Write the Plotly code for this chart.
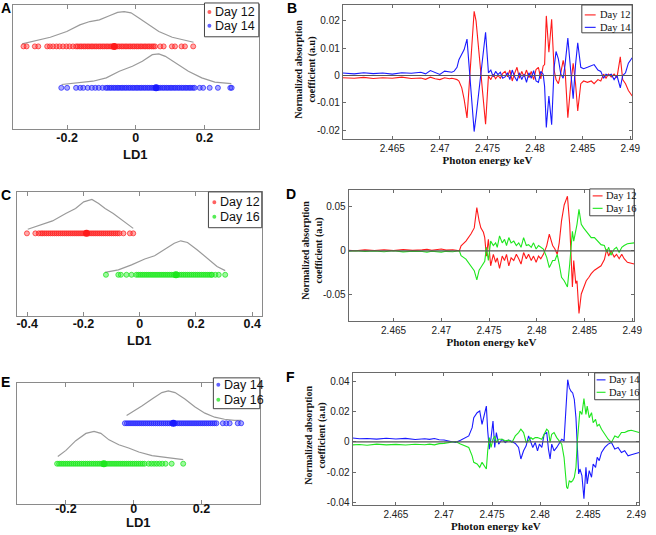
import plotly.graph_objects as go

# ---------------- Data: LD1 strip plots (left column) ----------------
A_DAY12 = [-0.327, -0.318, -0.294, -0.284, -0.258, -0.250, -0.241, -0.231, -0.222, -0.212, -0.202, -0.193, -0.183,
           -0.174, -0.169, -0.163, -0.158, -0.152, -0.147, -0.141, -0.136, -0.130, -0.125, -0.119, -0.114, -0.108,
           -0.103, -0.097, -0.092, -0.086, -0.081, -0.075, -0.070, -0.064, -0.059, -0.053, -0.048, -0.042, -0.037,
           -0.031, -0.026, -0.020, -0.015, -0.009, -0.004, 0.002, 0.007, 0.013, 0.018, 0.024, 0.029, 0.035, 0.040,
           0.046, 0.051, 0.056, 0.071, 0.081, 0.105, 0.114, 0.133, 0.143, 0.167]
A_DAY14 = [-0.217, -0.200, -0.174, -0.162, -0.153, -0.140, -0.128, -0.118, -0.108, -0.097, -0.087,
           -0.082, -0.076, -0.071, -0.065, -0.060, -0.054, -0.049, -0.043, -0.038, -0.032, -0.027, -0.021, -0.016,
           -0.010, -0.005, 0.001, 0.006, 0.012, 0.017, 0.023, 0.028, 0.034, 0.039, 0.045, 0.050, 0.056, 0.061,
           0.067, 0.072, 0.078, 0.083, 0.089, 0.094, 0.100, 0.105, 0.111, 0.116, 0.122, 0.127, 0.133, 0.138,
           0.144, 0.149, 0.155, 0.160, 0.166, 0.171, 0.186, 0.196, 0.215, 0.239, 0.275, 0.279]
A_MEANS = [-0.063, 0.059]
A_KDE12_X = [-0.331, -0.297, -0.249, -0.201, -0.163, -0.134, -0.106, -0.077, -0.053, -0.034, -0.014, 0.010, 0.038, 0.067, 0.106, 0.144, 0.168]
A_KDE12_H = [0.06, 0.12, 0.22, 0.36, 0.52, 0.60, 0.64, 0.74, 0.82, 0.84, 0.81, 0.68, 0.52, 0.36, 0.22, 0.14, 0.10]
A_KDE14_X = [-0.216, -0.173, -0.125, -0.086, -0.048, -0.010, 0.019, 0.048, 0.067, 0.086, 0.115, 0.153, 0.192, 0.230, 0.278]
A_KDE14_H = [0.08, 0.12, 0.16, 0.24, 0.40, 0.52, 0.64, 0.80, 0.82, 0.76, 0.60, 0.40, 0.24, 0.14, 0.10]

C_DAY12 = [-0.401, -0.371, -0.359, -0.351, -0.345, -0.338, -0.331, -0.324, -0.317, -0.310, -0.303, -0.296, -0.289,
           -0.282, -0.275, -0.268, -0.261, -0.254, -0.247, -0.240, -0.233, -0.226, -0.219, -0.212, -0.205, -0.198,
           -0.191, -0.184, -0.177, -0.170, -0.163, -0.156, -0.149, -0.142, -0.135, -0.128, -0.121, -0.114, -0.107,
           -0.100, -0.093, -0.086, -0.079, -0.072, -0.058, -0.035, -0.023]
C_DAY16 = [-0.120, -0.076, -0.067, -0.047, -0.029, -0.012, -0.005, 0.002, 0.009, 0.016, 0.023, 0.030, 0.037, 0.044,
           0.051, 0.058, 0.065, 0.072, 0.079, 0.086, 0.093, 0.100, 0.107, 0.114, 0.121, 0.128, 0.135, 0.142, 0.149,
           0.156, 0.163, 0.170, 0.177, 0.184, 0.191, 0.198, 0.205, 0.212, 0.219, 0.226, 0.233, 0.240, 0.247, 0.254,
           0.257, 0.269, 0.281, 0.304]
C_MEANS = [-0.189, 0.129]
C_KDE12_X = [-0.398, -0.357, -0.310, -0.263, -0.228, -0.199, -0.170, -0.146, -0.123, -0.094, -0.064, -0.041, -0.023]
C_KDE12_H = [0.10, 0.20, 0.30, 0.48, 0.60, 0.76, 0.82, 0.72, 0.60, 0.48, 0.32, 0.20, 0.12]
C_KDE16_X = [-0.123, -0.076, -0.029, 0.018, 0.053, 0.088, 0.123, 0.146, 0.170, 0.205, 0.240, 0.275, 0.304]
C_KDE16_H = [0.06, 0.12, 0.24, 0.38, 0.46, 0.60, 0.76, 0.82, 0.78, 0.60, 0.40, 0.20, 0.10]

E_DAY14 = [-0.026, -0.020, -0.014, -0.008, -0.002, 0.004, 0.010, 0.016, 0.022, 0.028, 0.034, 0.040, 0.046, 0.052,
           0.058, 0.064, 0.070, 0.076, 0.082, 0.088, 0.094, 0.100, 0.106, 0.112, 0.118, 0.124, 0.130, 0.136, 0.142,
           0.148, 0.154, 0.160, 0.166, 0.172, 0.178, 0.184, 0.190, 0.196, 0.202, 0.208, 0.214, 0.220, 0.226, 0.232,
           0.238, 0.244, 0.263, 0.273, 0.283, 0.307, 0.317]
E_DAY16 = [-0.226, -0.220, -0.214, -0.208, -0.202, -0.196, -0.190, -0.184, -0.178, -0.172, -0.166, -0.160, -0.154,
           -0.148, -0.142, -0.136, -0.130, -0.124, -0.118, -0.112, -0.106, -0.100, -0.094, -0.088, -0.082, -0.076,
           -0.070, -0.064, -0.058, -0.052, -0.046, -0.040, -0.034, -0.028, -0.022, -0.016, -0.010, -0.004, 0.002,
           0.008, 0.014, 0.020, 0.026, 0.032, 0.044, 0.052, 0.060, 0.068, 0.076, 0.084, 0.094, 0.112, 0.146]
E_MEANS = [0.117, -0.088]
E_KDE14_X = [-0.021, -0.005, 0.024, 0.054, 0.083, 0.102, 0.122, 0.151, 0.180, 0.210, 0.239, 0.268, 0.297, 0.317]
E_KDE14_H = [0.19, 0.27, 0.43, 0.60, 0.76, 0.80, 0.76, 0.60, 0.41, 0.25, 0.15, 0.10, 0.07, 0.07]
E_KDE16_X = [-0.224, -0.200, -0.171, -0.141, -0.117, -0.097, -0.073, -0.044, -0.015, 0.015, 0.054, 0.093, 0.122, 0.146]
E_KDE16_H = [0.18, 0.33, 0.57, 0.75, 0.80, 0.75, 0.59, 0.47, 0.39, 0.29, 0.20, 0.15, 0.12, 0.10]

LD1_TICKS_A = [-0.2, 0, 0.2]
LD1_TICKS_C = [-0.4, -0.2, 0, 0.2, 0.4]
LD1_TICKS_E = [-0.2, 0, 0.2]

# ---------------- Data: difference spectra (right column) ----------------
B_KEV = [2.4598, 2.4610, 2.4620, 2.4630, 2.4640, 2.4650, 2.4660, 2.4670, 2.4680, 2.4685, 2.4690, 2.4695, 2.4700, 2.4705, 2.4710,
         2.47125, 2.4715, 2.4718, 2.4720, 2.4723, 2.47255, 2.47285, 2.4736, 2.4738, 2.4748, 2.4751,
         2.47535, 2.4756, 2.47585, 2.4761, 2.47635, 2.4766, 2.47685, 2.4771, 2.47735, 2.4776, 2.47785, 2.4781,
         2.47835, 2.4786, 2.47885, 2.4791, 2.47935, 2.4796, 2.47985, 2.4801, 2.48035, 2.4806, 2.48085, 2.4810,
         2.48118, 2.48145, 2.48174, 2.4820, 2.4822, 2.48245, 2.4827, 2.48295, 2.48315, 2.48344, 2.48375, 2.4840, 2.48425, 2.48448, 2.4848,
         2.4851, 2.4855, 2.4859, 2.4862, 2.4866, 2.4869, 2.4872, 2.48745, 2.4877, 2.4880, 2.4883, 2.4886, 2.48895, 2.4892, 2.4895, 2.4898, 2.4902]
B_DAY12 = [-0.0008, -0.0010, -0.0007, -0.0011, -0.0008, -0.0010, -0.0006, -0.0011, -0.0009, -0.0014, -0.0006, -0.0012, -0.0015, -0.0008, -0.0012,
           -0.0010, -0.0012, -0.0015, -0.0020, -0.0045, -0.0087, -0.0155, 0.0235, 0.0200, -0.0178, -0.0002,
           -0.0015, 0.0005, -0.0012, 0.0000, -0.0010, 0.0008, 0.0015, -0.0005, 0.0020, -0.0020, 0.0008, 0.0030,
           -0.0010, 0.0015, -0.0005, 0.0020, -0.0008, 0.0015, -0.0015, 0.0022, 0.0030, -0.0012, 0.0035, 0.0040,
           0.0218, 0.0085, 0.0206, 0.0020, -0.0015, -0.0030, 0.0010, 0.0055, 0.0020, -0.0154, -0.0030, 0.0045, -0.0030, -0.0130, -0.0030,
           -0.0020, -0.0025, -0.0020, -0.0030, -0.0015, -0.0020, 0.0005, -0.0010, 0.0005, -0.0005, 0.0005, -0.0008, 0.0068, -0.0015, -0.0030, -0.0055, -0.0075]
B_DAY14 = [0.0009, 0.0006, 0.0010, 0.0007, 0.0009, 0.0005, 0.0010, 0.0008, 0.0012, 0.0006, 0.0018, 0.0010, 0.0004, 0.0016, 0.0012,
           0.0012, 0.0016, 0.0030, 0.0058, 0.0076, 0.0095, 0.0133, -0.0205, -0.0150, 0.0158, 0.0010,
           0.0020, -0.0005, 0.0015, 0.0003, 0.0012, -0.0010, -0.0005, 0.0010, -0.0015, 0.0020, -0.0005, -0.0020,
           0.0010, -0.0015, 0.0005, -0.0025, 0.0010, -0.0010, 0.0018, -0.0020, -0.0025, 0.0015, 0.0005, -0.0040,
           -0.0190, -0.0075, -0.0180, 0.0030, 0.0088, 0.0060, 0.0005, -0.0010, 0.0040, 0.0137, 0.0020, -0.0085, 0.0040, 0.0120, 0.0030,
           0.0025, 0.0030, 0.0035, 0.0040, 0.0020, 0.0015, -0.0010, 0.0005, 0.0000, 0.0005, -0.0015, 0.0000, -0.0045, 0.0000, 0.0010, 0.0045, 0.0065]

D_KEV = [2.4603, 2.4610, 2.4620, 2.4630, 2.4640, 2.4650, 2.4660, 2.4670, 2.4680, 2.4685, 2.4690, 2.4695, 2.4700, 2.4705, 2.4712,
         2.47189, 2.47207, 2.47258, 2.4731, 2.47345, 2.47372, 2.47396, 2.47414, 2.47441, 2.47455,
         2.47472, 2.47493, 2.47517, 2.47545, 2.47569, 2.47586, 2.4761, 2.47638, 2.47662, 2.47683,
         2.47707, 2.47731, 2.47759, 2.47786, 2.47811, 2.47835, 2.47862, 2.4789, 2.47914, 2.47942,
         2.47966, 2.47993, 2.48018, 2.48042, 2.48069, 2.48104, 2.48131, 2.48149, 2.48166, 2.4819,
         2.48214, 2.48235, 2.48259, 2.48287, 2.48321, 2.48345, 2.48359, 2.48373, 2.48387, 2.48408,
         2.48421, 2.48442, 2.48466, 2.4849, 2.48518, 2.48546, 2.4857, 2.48604, 2.48639, 2.48673,
         2.48708, 2.48732, 2.48753, 2.48777, 2.48811, 2.48835, 2.48863, 2.4889, 2.48915, 2.48949,
         2.4902]
D_DAY12 = [0.0005, 0.0000, 0.0010, 0.0003, 0.0012, 0.0002, 0.0015, 0.0005, 0.0010, 0.0018, 0.0006, 0.0015, 0.0020, 0.0008, 0.0012,
           0.0000, 0.0056, 0.0110, 0.0190, 0.0260, 0.0490, 0.0340, 0.0260, 0.0210, 0.0150,
           -0.0060, 0.0130, -0.0170, -0.0040, -0.0130, -0.0080, -0.0200, -0.0060, -0.0110, -0.0040,
           -0.0170, -0.0080, -0.0110, -0.0040, -0.0090, -0.0150, -0.0020, -0.0090, -0.0040, -0.0110,
           -0.0060, -0.0130, -0.0060, -0.0090, -0.0040, 0.0056, 0.0190, 0.0130, 0.0060, 0.0020,
           -0.0040, 0.0090, 0.0340, 0.0520, 0.0620, 0.0300, -0.0100, -0.0410, -0.0110, -0.0370,
           -0.0340, -0.0710, -0.0490, -0.0410, -0.0340, -0.0300, -0.0260, -0.0220, -0.0190, -0.0170,
           -0.0100, 0.0015, -0.0060, 0.0000, -0.0070, -0.0040, -0.0090, -0.0040, -0.0090, -0.0130,
           -0.0150]
D_DAY16 = [-0.0005, 0.0000, -0.0008, -0.0002, -0.0010, 0.0000, -0.0012, -0.0005, -0.0008, -0.0015, -0.0005, -0.0012, -0.0015, -0.0006, -0.0010,
           0.0000, -0.0056, -0.0094, -0.0170, -0.0225, -0.0330, -0.0220, -0.0190, -0.0150, -0.0120,
           0.0040, -0.0110, 0.0110, 0.0060, 0.0090, 0.0040, 0.0170, 0.0090, 0.0130, 0.0060,
           0.0150, 0.0090, 0.0110, 0.0060, 0.0090, 0.0040, 0.0150, 0.0060, 0.0070, 0.0040,
           0.0090, 0.0020, 0.0060, 0.0040, 0.0020, -0.0075, -0.0190, -0.0150, -0.0110, -0.0110,
           -0.0040, -0.0150, -0.0300, -0.0340, -0.0410, -0.0150, 0.0050, 0.0220, 0.0110, 0.0220,
           0.0300, 0.0470, 0.0300, 0.0260, 0.0220, 0.0190, 0.0150, 0.0150, 0.0110, 0.0070,
           0.0060, -0.0015, 0.0040, -0.0050, 0.0020, 0.0040, -0.0020, 0.0040, 0.0060, 0.0080,
           0.0090]

F_KEV = [2.4605, 2.4612, 2.4620, 2.4630, 2.4640, 2.4650, 2.4660, 2.4670, 2.4680, 2.4685, 2.4690, 2.4695, 2.4700, 2.4704,
         2.47086, 2.4712, 2.47172, 2.47224, 2.47258, 2.47293, 2.4731, 2.47345, 2.47372, 2.47396,
         2.47421, 2.47441, 2.47455, 2.47472, 2.4749, 2.4751, 2.47528, 2.47545, 2.47569, 2.47604,
         2.47638, 2.47673, 2.47707, 2.47742, 2.47776, 2.478, 2.47828, 2.47855, 2.4788, 2.47904,
         2.47924, 2.47949, 2.47973, 2.47993, 2.48018, 2.48042, 2.48069, 2.48087, 2.48104, 2.48121,
         2.48145, 2.48173, 2.482, 2.48225, 2.48249, 2.48263, 2.48276, 2.48287, 2.48304, 2.48321,
         2.48339, 2.48356, 2.48373, 2.48387, 2.48401, 2.48414, 2.48435, 2.48456, 2.48477, 2.4849,
         2.48511, 2.48535, 2.48552, 2.48577, 2.48594, 2.48615, 2.48639, 2.48673, 2.48708, 2.48742,
         2.48777, 2.48811, 2.48846, 2.4888, 2.48915, 2.48949, 2.4903]
F_DAY14 = [0.0025, 0.0020, 0.0022, 0.0018, 0.0024, 0.0019, 0.0023, 0.0015, 0.0020, 0.0016, 0.0022, 0.0014, 0.0012, 0.0008,
           0.0002, -0.0004, 0.0011, 0.0028, 0.0039, 0.0093, 0.0159, 0.0192, 0.0203, 0.0115,
           0.0181, 0.0235, 0.0072, -0.0048, 0.0028, 0.0137, -0.0037, 0.0061, -0.0015, 0.0017,
           -0.0004, 0.0011, 0.0002, -0.0011, -0.0037, -0.0113, -0.0059, -0.0026, 0.0039, -0.0004,
           -0.0037, -0.0004, -0.0059, -0.0015, -0.0037, 0.0050, 0.0061, -0.0048, -0.0113, -0.0015,
           -0.0059, -0.0037, -0.0004, 0.0017, 0.0007, 0.0181, 0.0355, 0.0409, 0.0355, 0.0333,
           0.0322, 0.0279, 0.0159, 0.0000, -0.0211, -0.0179, -0.0222, -0.0375, -0.0168, -0.0277,
           -0.0190, -0.0233, -0.0146, -0.0168, -0.0102, -0.0124, -0.0070, -0.0037, -0.0015, -0.0004,
           -0.0048, -0.0037, -0.0070, -0.0059, -0.0092, -0.0085, -0.0070]
F_DAY16 = [-0.0020, -0.0018, -0.0022, -0.0015, -0.0020, -0.0017, -0.0021, -0.0016, -0.0019, -0.0015, -0.0020, -0.0012, -0.0010, -0.0006,
           -0.0002, 0.0002, -0.0015, -0.0026, -0.0037, -0.0092, -0.0135, -0.0146, -0.0168, -0.0135,
           -0.0157, -0.0179, -0.0059, 0.0028, -0.0037, 0.0017, 0.0039, -0.0004, 0.0017, 0.0017,
           0.0007, 0.0011, -0.0004, 0.0039, 0.0061, 0.0083, 0.0061, -0.0004, 0.0007, 0.0028,
           0.0017, 0.0028, 0.0028, 0.0024, 0.0017, 0.0050, 0.0083, 0.0072, -0.0004, 0.0050,
           0.0061, 0.0028, 0.0007, -0.0015, -0.0102, -0.0190, -0.0298, -0.0309, -0.0255, -0.0266,
           -0.0255, -0.0233, -0.0168, 0.0000, 0.0137, 0.0203, 0.0181, 0.0285, 0.0181, 0.0235,
           0.0159, 0.0192, 0.0126, 0.0148, 0.0104, 0.0115, 0.0083, 0.0050, 0.0017, -0.0004,
           0.0039, 0.0028, 0.0061, 0.0061, 0.0072, 0.0076, 0.0061]

KEV_TICKS = [2.465, 2.47, 2.475, 2.48, 2.485, 2.49]
KEV_TICKTEXT = ["2.465", "2.47", "2.475", "2.48", "2.485", "2.49"]
B_YTICKS = [-0.02, -0.01, 0, 0.01, 0.02]
B_YTICKTEXT = ["-0.02", "-0.01", "0", "0.01", "0.02"]
D_YTICKS = [-0.05, 0, 0.05]
D_YTICKTEXT = ["-0.05", "0", "0.05"]
F_YTICKS = [-0.04, -0.02, 0, 0.02, 0.04]
F_YTICKTEXT = ["-0.04", "-0.02", "0", "0.02", "0.04"]

for a, b in [(B_KEV, B_DAY12), (B_KEV, B_DAY14), (D_KEV, D_DAY12), (D_KEV, D_DAY16), (F_KEV, F_DAY14), (F_KEV, F_DAY16),
             (A_KDE12_X, A_KDE12_H), (A_KDE14_X, A_KDE14_H), (C_KDE12_X, C_KDE12_H), (C_KDE16_X, C_KDE16_H),
             (E_KDE14_X, E_KDE14_H), (E_KDE16_X, E_KDE16_H)]:
    assert len(a) == len(b), (len(a), len(b))

# ---------------- Styling ----------------
W, H = 656, 535
RED, BLUE, GREEN = "#ff1a1a", "#1a1aff", "#1ee61e"
PT = {RED: ("rgba(255,40,40,0.40)", "rgba(255,30,30,0.70)"),
      BLUE: ("rgba(40,40,255,0.40)", "rgba(30,30,255,0.70)"),
      GREEN: ("rgba(40,240,40,0.45)", "rgba(30,230,30,0.75)")}
SANS = "Liberation Sans, Arial, sans-serif"
SERIF = "Liberation Serif, Times New Roman, serif"


def px_x(p):
    return p / W


def px_y(p):
    return 1 - p / H


def dom_x(a, b):
    return [px_x(a), px_x(b)]


def dom_y(top, bottom):
    return [px_y(bottom), px_y(top)]


fig = go.Figure()

UPPER, LOWER = 2, 1


def strip(ax, vals, mean, kde_x, kde_h, level, col, name):
    xa, ya = "x" + ax, "y" + ax
    fill, edge = PT[col]
    fig.add_trace(go.Scatter(x=kde_x, y=[level + h for h in kde_h], mode="lines",
                             line=dict(color="#9a9a9a", width=1.2), xaxis=xa, yaxis=ya,
                             showlegend=False, hoverinfo="skip"))
    fig.add_trace(go.Scatter(x=vals, y=[level] * len(vals), mode="markers", name=name,
                             marker=dict(symbol="circle", size=5, color=fill, line=dict(width=1, color=edge)),
                             xaxis=xa, yaxis=ya, showlegend=False))
    fig.add_trace(go.Scatter(x=[mean], y=[level], mode="markers",
                             marker=dict(symbol="circle", size=7, color=col),
                             xaxis=xa, yaxis=ya, showlegend=False))


strip("", A_DAY12, A_MEANS[0], A_KDE12_X, A_KDE12_H, UPPER, RED, "Day 12")
strip("", A_DAY14, A_MEANS[1], A_KDE14_X, A_KDE14_H, LOWER, BLUE, "Day 14")
strip("3", C_DAY12, C_MEANS[0], C_KDE12_X, C_KDE12_H, UPPER, RED, "Day 12")
strip("3", C_DAY16, C_MEANS[1], C_KDE16_X, C_KDE16_H, LOWER, GREEN, "Day 16")
strip("5", E_DAY14, E_MEANS[0], E_KDE14_X, E_KDE14_H, UPPER, BLUE, "Day 14")
strip("5", E_DAY16, E_MEANS[1], E_KDE16_X, E_KDE16_H, LOWER, GREEN, "Day 16")


def spectrum(ax, x, y, col, name):
    fig.add_trace(go.Scatter(x=x, y=y, mode="lines", name=name, line=dict(color=col, width=1.1),
                             xaxis="x" + ax, yaxis="y" + ax, showlegend=False))


spectrum("2", B_KEV, B_DAY12, RED, "Day 12")
spectrum("2", B_KEV, B_DAY14, BLUE, "Day 14")
spectrum("4", D_KEV, D_DAY12, RED, "Day 12")
spectrum("4", D_KEV, D_DAY16, GREEN, "Day 16")
spectrum("6", F_KEV, F_DAY14, BLUE, "Day 14")
spectrum("6", F_KEV, F_DAY16, GREEN, "Day 16")

# ---------------- Axes ----------------
LEFT_BOX = "#8a8a8a"
RIGHT_BOX = "#6a6a6a"
BOLD13 = dict(family=SANS, size=13, color="#111", weight="bold")


def left_axes(n, xd, yd, xr, ticks, label_shift, title_y):
    sfx = "" if n == 1 else str(n)
    fig.update_layout(**{
        "xaxis" + sfx: dict(domain=xd, range=xr, anchor="y" + sfx, tickvals=ticks,
                            ticktext=[("%g" % t) for t in ticks], ticks="inside", ticklen=4,
                            tickcolor=LEFT_BOX, showline=True, linecolor=LEFT_BOX, linewidth=1.3,
                            mirror="ticks", showgrid=False, zeroline=False, ticklabelstandoff=label_shift,
                            tickfont=dict(family=SANS, size=12.5, color="#111", weight="bold")),
        "yaxis" + sfx: dict(domain=yd, range=[0, 3], anchor="x" + sfx, showticklabels=False, ticks="",
                            showline=True, linecolor=LEFT_BOX, linewidth=1.3, mirror=True,
                            showgrid=False, zeroline=False),
    })
    # axis title "LD1" centred under the axis
    fig.add_annotation(text="LD1", x=0.5, xref="x%s domain" % sfx if sfx else "x domain",
                       y=px_y(title_y), yref="paper", showarrow=False, xanchor="center",
                       yanchor="bottom" if title_y >= H else "middle", font=BOLD13)


def right_axes(n, xd, yd, xr, yr, yt, ytt):
    sfx = str(n)
    fig.update_layout(**{
        "xaxis" + sfx: dict(domain=xd, range=xr, anchor="y" + sfx, tickvals=KEV_TICKS, ticktext=KEV_TICKTEXT,
                            ticks="inside", ticklen=3, tickcolor=RIGHT_BOX, showline=True,
                            linecolor=RIGHT_BOX, linewidth=1, mirror="ticks", showgrid=False, zeroline=False,
                            tickfont=dict(family=SANS, size=10, color="#222"),
                            title=dict(text="Photon energy keV", standoff=0,
                                       font=dict(family=SERIF, size=11, color="#111", weight="bold"))),
        "yaxis" + sfx: dict(domain=yd, range=yr, anchor="x" + sfx, tickvals=yt, ticktext=ytt,
                            ticks="inside", ticklen=3, tickcolor=RIGHT_BOX, showline=True,
                            linecolor=RIGHT_BOX, linewidth=1, mirror="ticks", showgrid=False, zeroline=False,
                            tickfont=dict(family=SANS, size=10, color="#222")),
    })
    fig.add_shape(type="line", xref="x%s domain" % sfx, yref="y" + sfx, x0=0, x1=1, y0=0, y1=0,
                  line=dict(color="#555555", width=1.2), layer="above")


left_axes(1, dom_x(13, 262), dom_y(5, 130), [-0.358, 0.358], LD1_TICKS_A, -3, 155)
left_axes(3, dom_x(17, 265), dom_y(193, 318), [-0.437, 0.434], LD1_TICKS_C, -4, 342)
left_axes(5, dom_x(17, 263), dom_y(385, 507), [-0.345, 0.372], LD1_TICKS_E, -7, H)

right_axes(2, dom_x(347, 640), dom_y(5, 140), [2.4598, 2.4902], [-0.0233, 0.0258], B_YTICKS, B_YTICKTEXT)
right_axes(4, dom_x(353, 642), dom_y(191, 323), [2.4603, 2.4902], [-0.0799, 0.0691], D_YTICKS, D_YTICKTEXT)
right_axes(6, dom_x(357, 647), dom_y(375, 508), [2.4605, 2.4903], [-0.0417, 0.0454], F_YTICKS, F_YTICKTEXT)


# ---------------- Legends (compact MATLAB-style boxes) ----------------
def legend_box(x0, y0, x1, y1):
    fig.add_shape(type="rect", xref="paper", yref="paper", x0=px_x(x0), x1=px_x(x1), y0=px_y(y1), y1=px_y(y0),
                  line=dict(color="#444", width=1), fillcolor="white", layer="above")


def marker_legend(x0, y0, x1, y1, mx, tx, entries):
    legend_box(x0, y0, x1, y1)
    for (name, col), yy in entries:
        fig.add_shape(type="circle", xref="paper", yref="paper", x0=px_x(mx - 2), x1=px_x(mx + 2),
                      y0=px_y(yy + 2), y1=px_y(yy - 2), fillcolor=PT[col][1], line=dict(width=0), layer="above")
        fig.add_annotation(text=name, x=px_x(tx), y=px_y(yy), xref="paper", yref="paper", showarrow=False,
                           xanchor="left", yanchor="middle", font=dict(family=SANS, size=12.5, color="#111"))


def line_legend(x0, y0, x1, y1, lx0, lx1, tx, entries):
    legend_box(x0, y0, x1, y1)
    for (name, col), yy in entries:
        fig.add_shape(type="line", xref="paper", yref="paper", x0=px_x(lx0), x1=px_x(lx1),
                      y0=px_y(yy), y1=px_y(yy), line=dict(color=col, width=1.1), layer="above")
        fig.add_annotation(text=name, x=px_x(tx), y=px_y(yy), xref="paper", yref="paper", showarrow=False,
                           xanchor="left", yanchor="middle", font=dict(family=SERIF, size=10.5, color="#111"))


marker_legend(207, 3, 262, 37, 212, 216, [(("Day 12", RED), 12), (("Day 14", BLUE), 26)])
marker_legend(211, 193, 265, 229, 217, 221, [(("Day 12", RED), 203.5), (("Day 16", GREEN), 218)])
marker_legend(216, 380, 263, 411, 221, 225, [(("Day 14", BLUE), 387), (("Day 16", GREEN), 402)])

line_legend(589, 5, 640, 33, 592, 603, 605, [(("Day 12", RED), 15), (("Day 14", BLUE), 27.5)])
line_legend(597, 190, 642, 217, 600, 610, 611, [(("Day 12", RED), 197), (("Day 16", GREEN), 209.5)])
line_legend(602, 375, 647, 402, 604, 613, 614, [(("Day 14", BLUE), 382), (("Day 16", GREEN), 394.5)])

# ---------------- Panel letters and y labels ----------------
for letter, xp, yp in [("A", 6, 8), ("B", 296, 8), ("C", 6, 196), ("D", 295, 195), ("E", 6, 384), ("F", 294, 379)]:
    fig.add_annotation(text=letter, x=px_x(xp), y=px_y(yp), xref="paper", yref="paper", showarrow=False,
                       xanchor="center", yanchor="middle", font=dict(family=SANS, size=14, color="#000", weight="bold"))

for xp, yp in [(309, 70), (316, 252), (319, 438)]:
    fig.add_annotation(text="Normalized absorption<br>coefficient (a.u)", x=px_x(xp), y=px_y(yp),
                       xref="paper", yref="paper", showarrow=False, textangle=-90, xanchor="center",
                       yanchor="middle", font=dict(family=SERIF, size=10, color="#111", weight="bold"))

fig.update_layout(width=W, height=H, margin=dict(l=0, r=0, t=0, b=0), paper_bgcolor="white",
                  plot_bgcolor="white", font=dict(family=SANS), showlegend=False)

fig.write_html("out.html", config={"displayModeBar": False},
               post_script="document.body.style.margin='0';document.body.style.padding='0';")
